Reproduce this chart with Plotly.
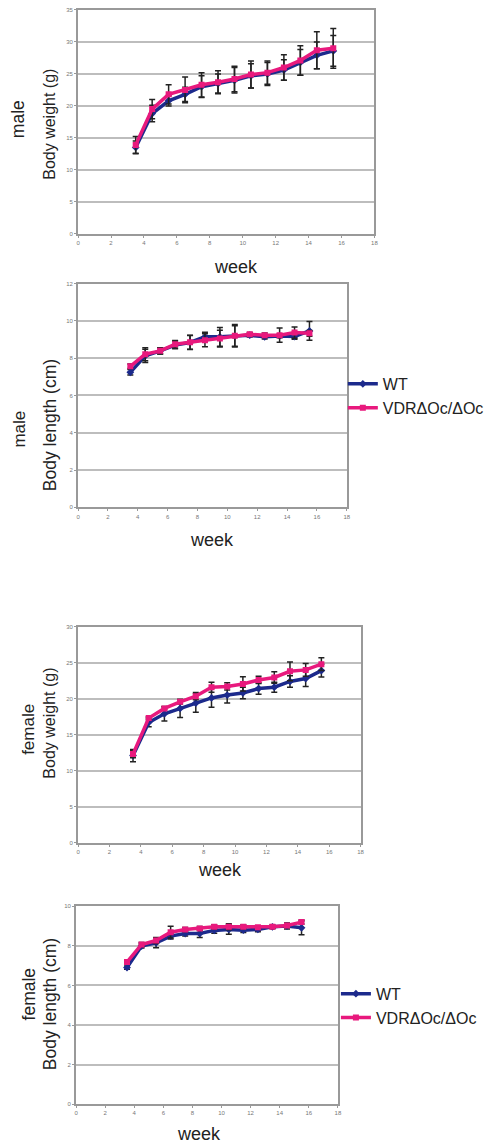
import plotly.graph_objects as go

weeks = [3.5, 4.5, 5.5, 6.5, 7.5, 8.5, 9.5, 10.5, 11.5, 12.5, 13.5, 14.5, 15.5]

# male body weight (g)
mw_wt = [13.5, 18.8, 20.8, 21.8, 23.0, 23.5, 24.0, 24.7, 25.0, 25.6, 26.8, 27.9, 28.6]
mw_wt_err = [1.0, 1.3, 0.8, 1.1, 1.7, 1.5, 2.0, 1.9, 1.8, 1.6, 2.0, 2.1, 2.4]
mw_ko = [13.9, 19.5, 21.8, 22.5, 23.3, 23.7, 24.2, 24.9, 25.2, 26.0, 27.1, 28.7, 29.0]
mw_ko_err = [1.3, 1.5, 1.5, 2.0, 1.9, 1.8, 2.0, 2.1, 1.8, 2.0, 2.3, 2.9, 3.1]

# male body length (cm)
ml_wt = [7.24, 8.12, 8.39, 8.70, 8.84, 9.14, 9.14, 9.19, 9.23, 9.14, 9.19, 9.16, 9.46]
ml_wt_err = [0.15, 0.35, 0.17, 0.2, 0.38, 0.25, 0.5, 0.55, 0.1, 0.12, 0.1, 0.15, 0.5]
ml_ko = [7.56, 8.21, 8.39, 8.75, 8.85, 8.96, 9.05, 9.20, 9.28, 9.23, 9.23, 9.37, 9.33]
ml_ko_err = [0.12, 0.35, 0.17, 0.2, 0.38, 0.35, 0.45, 0.6, 0.1, 0.12, 0.38, 0.3, 0.15]

# female body weight (g)
fw_wt = [12.1, 16.7, 17.9, 18.65, 19.4, 20.1, 20.5, 20.8, 21.4, 21.6, 22.4, 22.8, 23.9]
fw_wt_err = [0.85, 0.6, 1.0, 1.25, 1.3, 1.3, 1.1, 0.8, 0.8, 0.7, 0.8, 1.1, 0.9]
fw_ko = [12.3, 17.3, 18.65, 19.57, 20.35, 21.6, 21.7, 22.05, 22.6, 22.95, 23.8, 24.0, 24.8]
fw_ko_err = [0.5, 0.2, 0.2, 0.3, 0.5, 0.7, 0.5, 1.0, 0.5, 0.8, 1.3, 0.9, 0.9]

# female body length (cm)
fl_wt = [6.9, 7.99, 8.15, 8.49, 8.62, 8.62, 8.78, 8.83, 8.79, 8.83, 8.96, 9.0, 8.91]
fl_wt_err = [0.08, 0.1, 0.25, 0.15, 0.12, 0.2, 0.15, 0.25, 0.12, 0.12, 0.08, 0.15, 0.35]
fl_ko = [7.18, 8.07, 8.27, 8.69, 8.83, 8.88, 8.96, 8.96, 8.96, 8.94, 8.96, 9.03, 9.2]
fl_ko_err = [0.08, 0.1, 0.15, 0.3, 0.1, 0.1, 0.1, 0.15, 0.1, 0.08, 0.08, 0.1, 0.1]

x_ticks = [0, 2, 4, 6, 8, 10, 12, 14, 16, 18]
sex_labels = ["male", "male", "female", "female"]
y_titles = ["Body weight (g)", "Body length (cm)", "Body weight (g)", "Body length (cm)"]
y_max = [35, 12, 30, 10]
y_dtick = [5, 2, 5, 2]
names = ["WT", "VDR\u0394Oc/\u0394Oc"]

WT_COLOR = "#1c2a8c"
KO_COLOR = "#e8197d"

panels = [
    (mw_wt, mw_wt_err, mw_ko, mw_ko_err),
    (ml_wt, ml_wt_err, ml_ko, ml_ko_err),
    (fw_wt, fw_wt_err, fw_ko, fw_ko_err),
    (fl_wt, fl_wt_err, fl_ko, fl_ko_err),
]

W, H = 497, 1148
# pixel boxes (left, right, top, bottom)
boxes = [(77, 377, 7, 232), (77, 349, 282, 507), (77, 363, 627, 844), (75, 340, 908, 1107)]
# label placement (pixels): week (x, y); y-title (center y, size); sex label (x, center y, size)
week_pos = [(237, 265), (213, 540), (221, 872), (199, 1137)]
ytitle_pos = [(122, 16), (424, 17.5), (724, 16), (1006, 17.5)]
sex_pos = [(17, 117, 17.5), (18, 428, 17), (26, 730, 17), (27, 996, 17.5)]
legend_of = [None, "legend", None, "legend2"]

fig = go.Figure()
for i, (wt, wte, ko, koe) in enumerate(panels):
    ax = "" if i == 0 else str(i + 1)
    show = legend_of[i] is not None
    common = dict(xaxis="x" + ax, yaxis="y" + ax, showlegend=show)
    if show:
        common["legend"] = legend_of[i]
    fig.add_trace(go.Scatter(
        x=weeks, y=wt, name=names[0], mode="lines+markers",
        line=dict(color=WT_COLOR, width=3.5),
        marker=dict(symbol="diamond", size=6, color=WT_COLOR),
        error_y=dict(type="data", array=wte, color="#222222", thickness=1.5, width=3),
        **common))
    fig.add_trace(go.Scatter(
        x=weeks, y=ko, name=names[1], mode="lines+markers",
        line=dict(color=KO_COLOR, width=3.5),
        marker=dict(symbol="square", size=6, color=KO_COLOR),
        error_y=dict(type="data", array=koe, color="#222222", thickness=1.5, width=3),
        **common))

layout = dict(width=W, height=H, margin=dict(l=0, r=0, t=0, b=0),
              paper_bgcolor="white", plot_bgcolor="white",
              font=dict(family="Liberation Sans, Arial, sans-serif", color="#222"))
annotations = []
for i, (l, r, t, b) in enumerate(boxes):
    ax = "" if i == 0 else str(i + 1)
    layout["xaxis" + ax] = dict(
        domain=[l / W, r / W], range=[0, 18], tickvals=x_ticks,
        showgrid=False, zeroline=False, showline=True, mirror=True,
        linecolor="#999999", linewidth=2, ticks="outside", ticklen=2,
        tickcolor="#999999", tickfont=dict(size=6, color="#777777"),
        anchor="y" + ax, fixedrange=True)
    layout["yaxis" + ax] = dict(
        domain=[1 - b / H, 1 - t / H], range=[0, y_max[i]], dtick=y_dtick[i],
        showgrid=True, gridcolor="#bdbdbd", gridwidth=1.5, zeroline=False,
        showline=True, mirror=True, linecolor="#999999", linewidth=2,
        ticks="outside", ticklen=2, tickcolor="#999999",
        tickfont=dict(size=6, color="#777777"), anchor="x" + ax, fixedrange=True)
    wx, wy = week_pos[i]
    annotations.append(dict(text="week", x=wx / W, y=1 - wy / H,
                            xref="paper", yref="paper", showarrow=False,
                            font=dict(size=18, color="#222"), xanchor="center", yanchor="middle"))
    ty, ts = ytitle_pos[i]
    annotations.append(dict(text=y_titles[i], x=48 / W, y=1 - ty / H,
                            xref="paper", yref="paper", showarrow=False, textangle=-90,
                            font=dict(size=ts, color="#222"), xanchor="center", yanchor="middle"))
    sx, sy, ss = sex_pos[i]
    annotations.append(dict(text=sex_labels[i], x=sx / W, y=1 - sy / H,
                            xref="paper", yref="paper", showarrow=False, textangle=-90,
                            font=dict(size=ss, color="#222"), xanchor="center", yanchor="middle"))
layout["annotations"] = annotations
layout["legend"] = dict(x=345 / W, y=1 - 395 / H, xanchor="left", yanchor="middle",
                        font=dict(size=16, color="#222"), itemwidth=30,
                        tracegroupgap=0, bgcolor="rgba(0,0,0,0)")
layout["legend2"] = dict(x=338 / W, y=1 - 1008 / H, xanchor="left", yanchor="middle",
                         font=dict(size=16, color="#222"), itemwidth=30,
                         tracegroupgap=0, bgcolor="rgba(0,0,0,0)")
fig.update_layout(**layout)
fig.write_html("out.html", config={"displayModeBar": False},
               post_script="document.body.style.margin='0';")
